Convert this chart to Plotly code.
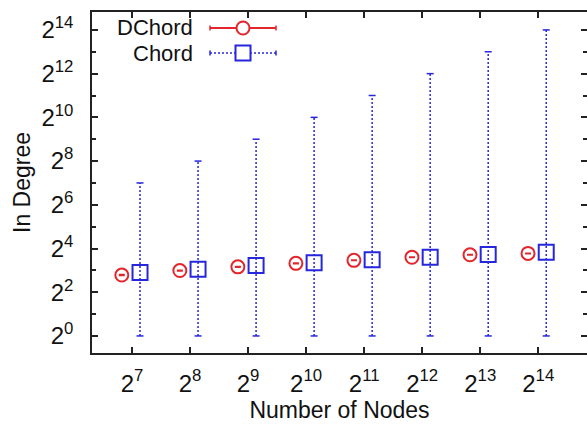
import math
import plotly.graph_objects as go

# ---------------- data ----------------
nodes = [2**7, 2**8, 2**9, 2**10, 2**11, 2**12, 2**13, 2**14]
x_tick_text = ["2<sup>7</sup>", "2<sup>8</sup>", "2<sup>9</sup>", "2<sup>10</sup>",
               "2<sup>11</sup>", "2<sup>12</sup>", "2<sup>13</sup>", "2<sup>14</sup>"]
y_tick_vals = [2**0, 2**2, 2**4, 2**6, 2**8, 2**10, 2**12, 2**14]
y_tick_text = ["2<sup>0</sup>", "2<sup>2</sup>", "2<sup>4</sup>", "2<sup>6</sup>",
               "2<sup>8</sup>", "2<sup>10</sup>", "2<sup>12</sup>", "2<sup>14</sup>"]
y_minor_vals = [2**1, 2**3, 2**5, 2**7, 2**9, 2**11, 2**13]

dchord_mean = [6.9, 7.95, 8.95, 10.0, 11.0, 12.1, 13.1, 13.7]
dchord_min = [6.8, 7.85, 8.85, 9.9, 10.9, 12.0, 13.0, 13.6]
dchord_max = [7.0, 8.05, 9.05, 10.1, 11.1, 12.2, 13.2, 13.8]

chord_mean = [7.45, 8.3, 9.3, 10.2, 11.2, 12.1, 13.2, 14.2]
chord_min = [1, 1, 1, 1, 1, 1, 1, 1]
chord_max = [128, 256, 512, 1024, 2048, 4096, 8192, 16384]

series_names = ["DChord", "Chord"]

# ---------------- style ----------------
RED = "#e3262c"
BLUE = "#2626dd"
AX = "#222222"
FONT = "Liberation Sans, Arial, sans-serif"

W_FIG, H_FIG = 587, 428
L, R, T, B = 92, 0, 12, 75
PW = W_FIG - L - R
PH = H_FIG - T - B

x_range = [6.31 * math.log10(2), 14.84 * math.log10(2)]
y_range = [-0.78 * math.log10(2), 14.82 * math.log10(2)]

dx = [n * 0.885 for n in nodes]
cx = [n * 1.1 for n in nodes]

fig = go.Figure()

# DChord points with (tiny) error bars
fig.add_trace(go.Scatter(
    x=dx, y=dchord_mean, mode="markers", name=series_names[0], showlegend=False,
    marker=dict(symbol="circle-open", size=13, color=RED, line=dict(width=2, color=RED)),
    error_y=dict(type="data", symmetric=False,
                 array=[hi - m for hi, m in zip(dchord_max, dchord_mean)],
                 arrayminus=[m - lo for lo, m in zip(dchord_min, dchord_mean)],
                 color=RED, thickness=1.5, width=3),
))

# Chord dotted range bars
bx, by = [], []
for x, lo, hi in zip(cx, chord_min, chord_max):
    bx += [x, x, None]
    by += [lo, hi, None]
fig.add_trace(go.Scatter(
    x=bx, y=by, mode="lines", showlegend=False, hoverinfo="skip",
    line=dict(color=BLUE, width=1.5, dash="2px,2px"),
))
# caps
fig.add_trace(go.Scatter(
    x=cx + cx, y=chord_min + chord_max, mode="markers", showlegend=False, hoverinfo="skip",
    marker=dict(symbol="line-ew", size=5, color=BLUE, line=dict(width=1.5, color=BLUE)),
))
# Chord points
fig.add_trace(go.Scatter(
    x=cx, y=chord_mean, mode="markers", name=series_names[1], showlegend=False,
    marker=dict(symbol="square-open", size=15, color=BLUE, line=dict(width=2, color=BLUE)),
))

# right-side mirrored ticks (no line)
fig.add_trace(go.Scatter(x=[nodes[0]], y=[1], yaxis="y2", mode="markers",
                         marker=dict(opacity=0), showlegend=False, hoverinfo="skip"))


def px2x(px):
    return (px - L) / PW


def py2y(py):
    return (T + PH - py) / PH


shapes = []
annotations = []
legend_rows = [(series_names[0], RED, "solid", "circle", 28),
               (series_names[1], BLUE, "dot", "rect", 53)]
for name, col, dash, sym, yy in legend_rows:
    annotations.append(dict(x=px2x(194), y=py2y(yy), xref="paper", yref="paper",
                            text=name, showarrow=False, xanchor="right", yanchor="middle",
                            borderpad=0,
                            font=dict(family=FONT, size=22, color="#111111")))
    shapes.append(dict(type="line", xref="paper", yref="paper",
                       x0=px2x(210), x1=px2x(276), y0=py2y(yy), y1=py2y(yy),
                       line=dict(color=col, width=2 if dash == "solid" else 1.5,
                                 dash="solid" if dash == "solid" else "2px,2px")))
    for ex in (210, 276):
        shapes.append(dict(type="line", xref="paper", yref="paper",
                           x0=px2x(ex), x1=px2x(ex), y0=py2y(yy - 2.5), y1=py2y(yy + 2.5),
                           line=dict(color=col, width=1.5)))
    r = 6.5 if sym == "circle" else 7.5
    shapes.append(dict(type=sym, xref="paper", yref="paper",
                       x0=px2x(243 - r), x1=px2x(243 + r), y0=py2y(yy - r), y1=py2y(yy + r),
                       line=dict(color=col, width=2), fillcolor="white"))

fig.update_layout(
    width=W_FIG, height=H_FIG, autosize=False,
    margin=dict(l=L, r=R, t=T, b=B, pad=0),
    paper_bgcolor="white", plot_bgcolor="white",
    font=dict(family=FONT, size=24, color="#111111"),
    shapes=shapes, annotations=annotations,
    xaxis=dict(type="log", range=x_range, tickmode="array", tickvals=nodes,
               ticktext=x_tick_text, ticks="inside", ticklen=6, tickwidth=1.5,
               tickcolor=AX, showline=True, linecolor=AX, linewidth=1.5, mirror="ticks",
               showgrid=False, zeroline=False, ticklabelstandoff=8,
               tickfont=dict(size=24),
               title=dict(text="Number of Nodes", font=dict(size=23), standoff=6)),
    yaxis=dict(type="log", range=y_range, tickmode="array", tickvals=y_tick_vals,
               ticktext=y_tick_text, ticks="inside", ticklen=6, tickwidth=1.5,
               tickcolor=AX, showline=True, linecolor=AX, linewidth=1.5, mirror=False,
               showgrid=False, zeroline=False, ticklabelstandoff=12,
               tickfont=dict(size=24),
               minor=dict(tickmode="array", tickvals=y_minor_vals, ticks="inside",
                          ticklen=4, tickwidth=1.5, tickcolor=AX, showgrid=False),
               title=dict(text="In Degree", font=dict(size=23), standoff=4)),
    yaxis2=dict(type="log", range=y_range, overlaying="y", side="right",
                tickmode="array", tickvals=y_tick_vals, showticklabels=False,
                ticks="inside", ticklen=6, tickwidth=1.5, tickcolor=AX,
                showline=False, showgrid=False, zeroline=False,
                minor=dict(tickmode="array", tickvals=y_minor_vals, ticks="inside",
                           ticklen=4, tickwidth=1.5, tickcolor=AX, showgrid=False)),
)

fig.write_html("out.html")
